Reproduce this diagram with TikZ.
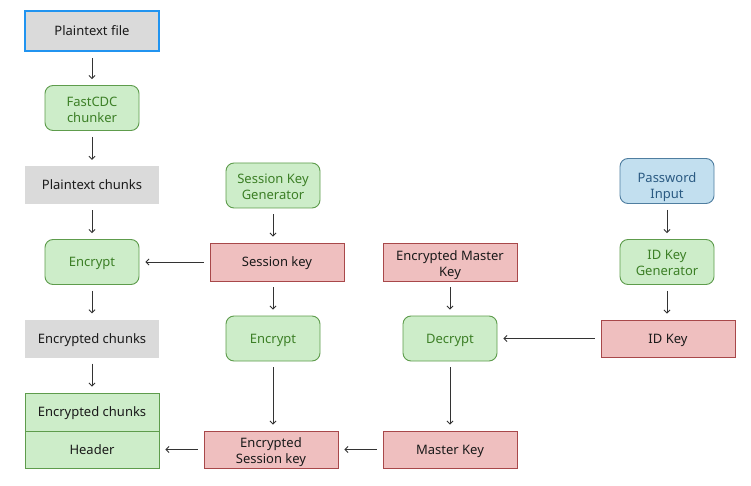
\documentclass[tikz,border=0pt]{standalone}
\usepackage{fontspec}
\setmainfont{Noto Sans}
\usetikzlibrary{arrows.meta}
\definecolor{grayfill}{HTML}{DADADA}
\definecolor{txt}{HTML}{1A1A1A}
\definecolor{greenfill}{HTML}{CDEDC9}
\definecolor{greenline}{HTML}{5E9C4C}
\definecolor{greentext}{HTML}{3C7F26}
\definecolor{redfill}{HTML}{EFBFBF}
\definecolor{redline}{HTML}{A8484A}
\definecolor{bluefill}{HTML}{C2DFEF}
\definecolor{blueline}{HTML}{4F7EA0}
\definecolor{bluetext}{HTML}{2A5A82}
\definecolor{bluebright}{HTML}{2194F0}
\definecolor{arrowcol}{HTML}{333333}
\newcommand{\twolines}[3][3pt]{\raisebox{-#1}[\height][\depth]{\begin{tabular}{@{}c@{}}#2\\#3\end{tabular}}}
\begin{document}
\begin{tikzpicture}[x=1pt,y=-1pt,
  font=\fontsize{13}{16}\selectfont,
  base/.style={align=center, inner sep=0pt, minimum width=134pt, minimum height=38pt,
    execute at begin node={\rule{0pt}{13.3pt}}, execute at end node={\rule[-4pt]{0pt}{4pt}}},
  graybox/.style={base, fill=grayfill, text=txt},
  redbox/.style={base, fill=redfill, draw=redline, line width=0.9pt, text=txt},
  greenbox/.style={base, fill=greenfill, draw=greenline, line width=0.9pt, text=txt},
  procbox/.style={base, minimum width=94pt, minimum height=45pt, rounded corners=8pt, fill=greenfill, draw=greenline, line width=0.9pt, text=greentext},
  inputbox/.style={procbox, fill=bluefill, draw=blueline, text=bluetext},
  arr/.style={draw=arrowcol, line width=0.8pt, -{Straight Barb[length=3pt,width=6pt]}, shorten <=6pt, shorten >=6pt}]
\useasboundingbox[fill=white] (0,0) rectangle (751,486);
% left column
\node[graybox, draw=bluebright, line width=2.2pt, minimum height=40pt] (pfile) at (92,31) {Plaintext file};
\node[procbox] (cdc) at (92,108) {\twolines{FastCDC}{chunker}};
\node[graybox] (pchunks) at (92,185) {Plaintext chunks};
\node[procbox] (enc1) at (92,262) {Encrypt};
\node[graybox] (echunks) at (92,338.5) {Encrypted chunks};
\node[greenbox, minimum height=38pt] (stack1) at (92,412) {Encrypted chunks};
\node[greenbox, minimum height=37pt] (header) at (92,449.5) {Header};
% middle column
\node[procbox] (skg) at (273,185.5) {\twolines{Session Key}{Generator}};
\node[redbox] (skey) at (277,262) {Session key};
\node[procbox] (enc2) at (273,338.5) {Encrypt};
\node[redbox, minimum height=37pt] (esk) at (271,449.5) {\twolines{Encrypted}{Session key}};
% right-middle column
\node[redbox] (emk) at (450,262) {\twolines{Encrypted Master}{Key}};
\node[procbox] (dec) at (450,338.5) {Decrypt};
\node[redbox, minimum height=37pt] (mk) at (450,449.5) {Master Key};
% right column
\node[inputbox] (pw) at (667,181) {\twolines[6pt]{Password}{Input}};
\node[procbox] (idkg) at (667,262) {\twolines[2pt]{ID Key}{Generator}};
\node[redbox, minimum height=37pt] (idk) at (668,338.5) {ID Key};
% connectors
\draw[arr] (pfile) -- (cdc);
\draw[arr] (cdc) -- (pchunks);
\draw[arr] (pchunks) -- (enc1);
\draw[arr] (enc1) -- (echunks);
\draw[arr] (echunks) -- (stack1);
\draw[arr] (skey.west) -- (enc1.east);
\draw[arr] (skg) -- (skg |- skey.north);
\draw[arr] (skg |- skey.south) -- (enc2);
\draw[arr] (enc2) -- (enc2 |- esk.north);
\draw[arr] (esk.west) -- (header.east);
\draw[arr] (mk.west) -- (esk.east);
\draw[arr] (emk) -- (dec);
\draw[arr] (dec) -- (mk);
\draw[arr] (pw) -- (idkg);
\draw[arr] (idkg) -- (idkg |- idk.north);
\draw[arr] (idk.west) -- (dec.east);
\end{tikzpicture}
\end{document}
